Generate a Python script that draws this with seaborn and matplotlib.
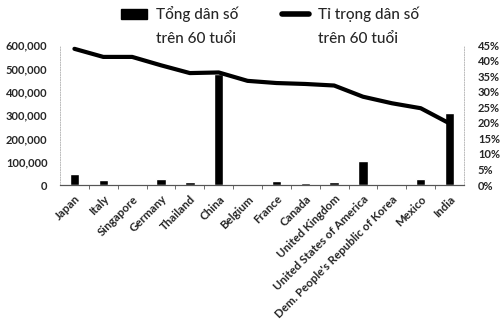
import numpy as np
import pandas as pd
import matplotlib
matplotlib.use("Agg")
import matplotlib.pyplot as plt
from matplotlib.patches import Patch
from matplotlib.lines import Line2D
from matplotlib.ticker import FuncFormatter, PercentFormatter
import seaborn as sns

countries = ["Japan", "Italy", "Singapore", "Germany", "Thailand", "China",
             "Belgium", "France", "Canada", "United Kingdom",
             "United States of America", "Dem. People's Republic of Korea",
             "Mexico", "India"]
pop_60_plus = [48000, 21000, 1500, 28000, 12000, 478000, 2000, 17000,
               8000, 13000, 103000, 3000, 25000, 308000]
share_60_plus = [0.438, 0.412, 0.412, 0.385, 0.360, 0.362, 0.335, 0.328,
                 0.325, 0.320, 0.284, 0.263, 0.247, 0.198]

left_ticks = [0, 100000, 200000, 300000, 400000, 500000, 600000]
right_ticks = [0, 0.05, 0.10, 0.15, 0.20, 0.25, 0.30, 0.35, 0.40, 0.45]

legend_first = ["Tổng dân số", "Tỉ trọng dân số"]
legend_second = ["trên 60 tuổi", "trên 60 tuổi"]

df = pd.DataFrame({"country": countries, "pop": pop_60_plus,
                   "share": share_60_plus})
df["pos"] = np.arange(len(df))

sns.set_theme(style="white")
plt.rcParams["font.family"] = ["Lato", "DejaVu Sans"]

fig = plt.figure(figsize=(5.0, 3.34), dpi=100)
ax = fig.add_axes([0.12, 0.446, 0.808, 0.419])

# bars: population aged 60+ (left axis)
sns.barplot(data=df, x="country", y="pop", color="black", width=0.33,
            saturation=1, ax=ax)
ax.set_ylim(0, 600000)
ax.set_xlim(-0.5, len(df) - 0.5)
ax.set_yticks(left_ticks)
ax.yaxis.set_major_formatter(FuncFormatter(lambda v, p: f"{int(v):,}"))
ax.set_xlabel("")
ax.set_ylabel("")

# line: share of population aged 60+ (right axis)
ax2 = ax.twinx()
sns.lineplot(data=df, x="pos", y="share", color="black", linewidth=3.0,
             ax=ax2, legend=False)
ax2.set_ylim(0, 0.45)
ax2.set_yticks(right_ticks)
ax2.yaxis.set_major_formatter(PercentFormatter(1.0, decimals=0))
ax2.set_ylabel("")
ax2.set_xlim(-0.5, len(df) - 0.5)

for a in (ax, ax2):
    a.spines["top"].set_visible(False)
    for side in ("left", "right"):
        a.spines[side].set_color("#bbbbbb")
        a.spines[side].set_linewidth(0.6)
        a.spines[side].set_linestyle((0, (1, 2)))
    a.spines["bottom"].set_color("#555555")
    a.spines["bottom"].set_linewidth(0.8)

ax.tick_params(axis="y", length=0, pad=9, labelsize=8)
ax2.tick_params(axis="y", length=0, pad=10, labelsize=8)
for lbl in ax.get_yticklabels() + ax2.get_yticklabels():
    lbl.set_fontweight("bold")
ax.set_xticks(np.arange(len(df)))
ax.set_xticklabels(countries, rotation=45, ha="right",
                   rotation_mode="anchor", fontsize=8.3, fontweight="bold")
ax.tick_params(axis="x", length=0, pad=6)
ax.set_xticks(np.arange(len(df) - 1) + 0.5, minor=True)
ax.tick_params(axis="x", which="minor", length=3, width=0.6,
               color="#555555", bottom=True)

handles = [Patch(facecolor="black", edgecolor="black"),
           Line2D([0], [0], color="black", linewidth=4)]
leg = fig.legend(handles, legend_first, loc="upper left",
                 bbox_to_anchor=(0.232, 0.995), ncol=2, frameon=False,
                 handlelength=1.75, handleheight=0.65, columnspacing=2.9,
                 handletextpad=0.55, borderaxespad=0, borderpad=0.3,
                 prop={"size": 11, "weight": "medium"})

# second line of each legend label, set under the first line
fig.canvas.draw()
inv = fig.transFigure.inverted()
for txt, second in zip(leg.get_texts(), legend_second):
    bb = txt.get_window_extent()
    x0, y0 = inv.transform((bb.x0, bb.y0))
    fig.text(x0, y0 - 0.03, second, ha="left", va="top", fontsize=11,
             fontweight="medium")

fig.savefig("out.png", dpi=100)
